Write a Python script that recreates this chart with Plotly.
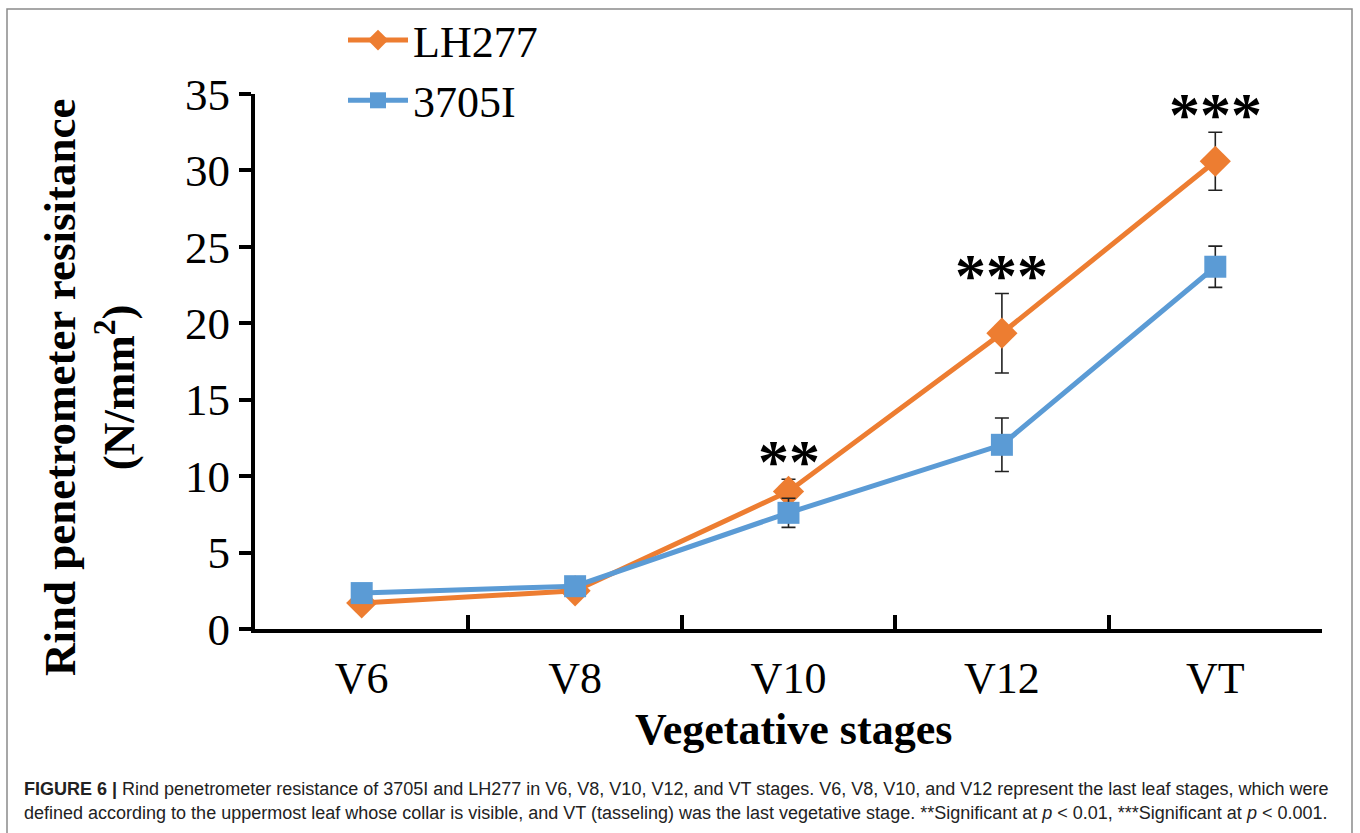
import plotly.graph_objects as go

stages = ["V6", "V8", "V10", "V12", "VT"]
lh277 = [1.7, 2.5, 9.0, 19.35, 30.6]
lh277_err = [0.2, 0.3, 0.8, 2.6, 1.9]
i3705 = [2.35, 2.8, 7.6, 12.05, 23.7]
i3705_err = [0.2, 0.3, 0.95, 1.75, 1.35]
signif = ["", "", "**", "***", "***"]
yticks = [0, 5, 10, 15, 20, 25, 30, 35]

ORANGE = "#ED7D31"
BLUE = "#5B9BD5"
SERIF = "Liberation Serif, Times New Roman, serif"

# plot area in pixels
L, R, T, B = 255, 38, 94, 204
W, H = 1360, 833
pw, ph = W - L - R, H - T - B

def px_x(p):
    return (p - L) / pw

def px_y(p):
    return (H - B - p) / ph

fig = go.Figure()
fig.add_trace(go.Scatter(
    x=stages, y=lh277, name="LH277", mode="lines+markers",
    line=dict(color=ORANGE, width=5),
    marker=dict(symbol="diamond", size=24, color=ORANGE),
    error_y=dict(type="data", array=lh277_err, color="#222", thickness=1.6, width=7),
))
fig.add_trace(go.Scatter(
    x=stages, y=i3705, name="3705I", mode="lines+markers",
    line=dict(color=BLUE, width=5),
    marker=dict(symbol="square", size=22, color=BLUE),
    error_y=dict(type="data", array=i3705_err, color="#222", thickness=1.6, width=7),
))

annotations = []
for st, v, e, s in zip(stages, lh277, lh277_err, signif):
    if s:
        annotations.append(dict(
            x=st, y=v + e, xref="x", yref="y", text="<b>" + s + "</b>", showarrow=False,
            font=dict(family=SERIF, size=62, color="black"),
            yanchor="bottom", yshift=-18,
        ))

annotations.append(dict(
    x=px_x(90), y=px_y(388), xref="paper", yref="paper",
    text="<b>Rind penetrometer resisitance<br>(N/mm<sup>2</sup>)</b>",
    textangle=-90, showarrow=False, xanchor="center", yanchor="middle",
    font=dict(family=SERIF, size=45, color="black"),
))
annotations.append(dict(
    x=px_x(793), y=px_y(729), xref="paper", yref="paper",
    text="<b>Vegetative stages</b>", showarrow=False,
    xanchor="center", yanchor="middle",
    font=dict(family=SERIF, size=44, color="black"),
))
cap_font = dict(family="Liberation Sans, Arial, sans-serif", size=18, color="#222")
annotations.append(dict(
    x=px_x(22), y=px_y(789), xref="paper", yref="paper", xanchor="left", yanchor="middle",
    showarrow=False, font=cap_font,
    text="<b>FIGURE 6 |</b> Rind penetrometer resistance of 3705I and LH277 in V6, V8, V10, V12, and VT stages. V6, V8, V10, and V12 represent the last leaf stages, which were",
))
annotations.append(dict(
    x=px_x(22), y=px_y(813), xref="paper", yref="paper", xanchor="left", yanchor="middle",
    showarrow=False, font=cap_font,
    text="defined according to the uppermost leaf whose collar is visible, and VT (tasseling) was the last vegetative stage. **Significant at <i>p</i> &lt; 0.01, ***Significant at <i>p</i> &lt; 0.001.",
))

fig.update_layout(
    width=W, height=H,
    margin=dict(l=L, r=R, t=T, b=B, autoexpand=False),
    paper_bgcolor="white", plot_bgcolor="white",
    showlegend=True,
    legend=dict(
        x=px_x(343), y=px_y(5), xanchor="left", yanchor="top",
        font=dict(family=SERIF, size=44, color="black"),
        bgcolor="rgba(0,0,0,0)", tracegroupgap=0, itemwidth=60,
    ),
    annotations=annotations,
    shapes=[dict(
        type="rect", xref="paper", yref="paper",
        x0=px_x(7), x1=px_x(1352), y0=px_y(845), y1=px_y(9),
        line=dict(color="#8a8a8a", width=1.5), fillcolor="rgba(0,0,0,0)", layer="below",
    )],
)
fig.update_xaxes(
    type="category", range=[-0.5, 4.5], tickson="boundaries",
    showline=True, linecolor="black", linewidth=4,
    ticks="inside", ticklen=14, tickwidth=4, tickcolor="black",
    showgrid=False, zeroline=False,
    tickfont=dict(family=SERIF, size=44, color="black"),
    ticklabelstandoff=7,
)
fig.update_yaxes(
    range=[0, 35], tickvals=yticks,
    showline=True, linecolor="black", linewidth=4,
    ticks="outside", ticklen=12, tickwidth=4, tickcolor="black",
    showgrid=False, zeroline=False,
    tickfont=dict(family=SERIF, size=45, color="black"),
)

fig.write_html("out.html")
